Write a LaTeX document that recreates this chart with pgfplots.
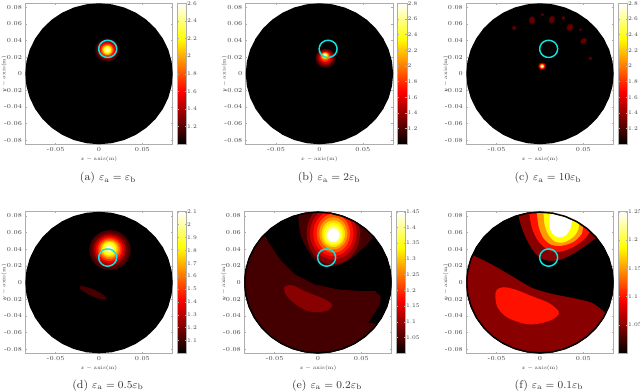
\documentclass[border=0pt]{standalone}
\usepackage{fontspec}
\usepackage{pgfplots}
\usepackage{pgfplotstable}
\pgfplotsset{compat=1.18}
\pgfplotsset{colormap={mhot}{rgb(0cm)=(0,0,0) rgb(3cm)=(1,0,0) rgb(6cm)=(1,1,0) rgb(8cm)=(1,1,1)}}
\definecolor{h1}{rgb}{.133,0,0}\definecolor{h2}{rgb}{.267,0,0}\definecolor{h3}{rgb}{.4,0,0}
\definecolor{h4}{rgb}{.533,0,0}\definecolor{h5}{rgb}{.667,0,0}\definecolor{h6}{rgb}{.8,0,0}
\definecolor{h7}{rgb}{.933,0,0}\definecolor{h8}{rgb}{1,.067,0}\definecolor{h9}{rgb}{1,.2,0}
\definecolor{h10}{rgb}{1,.333,0}\definecolor{h11}{rgb}{1,.467,0}\definecolor{h12}{rgb}{1,.6,0}
\definecolor{h13}{rgb}{1,.733,0}\definecolor{h14}{rgb}{1,.867,0}\definecolor{h15}{rgb}{1,1,0}
\definecolor{h16}{rgb}{1,1,.2}\definecolor{h17}{rgb}{1,1,.4}\definecolor{h18}{rgb}{1,1,.6}
\definecolor{h19}{rgb}{1,1,.8}\definecolor{h20}{rgb}{1,1,1}
\definecolor{ringcyan}{rgb}{.05,.9,.9}
\definecolor{boxgray}{gray}{.68}
\pgfplotstableread{
c s
1.0000 0.0000
0.9848 0.1736
0.9397 0.3420
0.8660 0.5000
0.7660 0.6428
0.6428 0.7660
0.5000 0.8660
0.3420 0.9397
0.1736 0.9848
0.0000 1.0000
-0.1736 0.9848
-0.3420 0.9397
-0.5000 0.8660
-0.6428 0.7660
-0.7660 0.6428
-0.8660 0.5000
-0.9397 0.3420
-0.9848 0.1736
-1.0000 0.0000
-0.9848 -0.1736
-0.9397 -0.3420
-0.8660 -0.5000
-0.7660 -0.6428
-0.6428 -0.7660
-0.5000 -0.8660
-0.3420 -0.9397
-0.1736 -0.9848
0.0000 -1.0000
0.1736 -0.9848
0.3420 -0.9397
0.5000 -0.8660
0.6428 -0.7660
0.7660 -0.6428
0.8660 -0.5000
0.9397 -0.3420
0.9848 -0.1736
1.0000 0.0000
}\unitcircle
% #1 cx #2 cy #3 rx #4 ry #5 rotation #6 colour
\newcommand\blob[6]{\addplot[fill=#6,draw=none,forget plot] table[
  x expr={#1+#3*\thisrow{c}*cos(#5)-#4*\thisrow{s}*sin(#5)},
  y expr={#2+#3*\thisrow{c}*sin(#5)+#4*\thisrow{s}*cos(#5)}]{\unitcircle};}
\newcommand\ringline[4]{\addplot[draw=#4,line width=1.1pt,forget plot] table[
  x expr={#1+#3*\thisrow{c}},y expr={#2+#3*\thisrow{s}}]{\unitcircle};}
\newcommand\target{\ringline{0.01}{0.03}{0.0103}{ringcyan}}
\newcommand\disc{\blob{0}{0}{0.085}{0.085}{0}{black}}
\newcommand\edge{\ringline{0}{0}{0.0845}{black}}
\pgfplotsset{
 patch/.style={fill=#1,draw=none,forget plot,smooth,tension=.55},
 panel/.style={
  scale only axis,anchor=south west,width=110.55pt,
  xmin=-0.085,xmax=0.085,ymin=-0.085,ymax=0.085,
  colormap name=mhot,
  scaled x ticks=false,scaled y ticks=false,
  xtick={-0.05,0,0.05},xticklabels={-0.05,0,0.05},
  ytick={-0.08,-0.06,-0.04,-0.02,0,0.02,0.04,0.06,0.08},
  yticklabels={-0.08,-0.06,-0.04,-0.02,0,0.02,0.04,0.06,0.08},
  tick align=inside,major tick length=1.3pt,
  tick style={boxgray,line width=.3pt},
  axis line style={boxgray,line width=.8pt},
  tick label style={font=\fontsize{4.6}{5}\selectfont,text=black!75},
  xticklabel style={yshift=1pt},yticklabel style={xshift=1pt},
  colorbar,
  every colorbar/.append style={width=7pt,xshift=-5.5pt,
    tick align=inside,major tick length=1.3pt,
    tick style={boxgray,line width=.3pt},
    axis line style={boxgray,line width=.8pt},
    yticklabel style={font=\fontsize{4.2}{5}\selectfont,text=black!75,xshift=-3.2pt}},
}}
\begin{document}
\begin{tikzpicture}
\useasboundingbox (0,0) rectangle (480pt,294pt);
% (a)
\begin{axis}[panel,at={(18.98pt,185.8pt)},height=105.75pt,point meta min=1,point meta max=2.6,
  colorbar style={ytick={1.2,1.4,1.6,1.8,2,2.2,2.4,2.6},yticklabels={1.2,1.4,1.6,1.8,2,2.2,2.4,2.6}}]
\disc
\blob{0.0096}{0.0287}{0.0146}{0.0146}{0}{h1}
\blob{0.0096}{0.0287}{0.0127}{0.0127}{0}{h3}
\blob{0.0096}{0.0287}{0.0108}{0.0108}{0}{h5}
\blob{0.0096}{0.0287}{0.0092}{0.0092}{0}{h7}
\blob{0.0096}{0.0287}{0.0077}{0.0077}{0}{h9}
\blob{0.0096}{0.0287}{0.0062}{0.0062}{0}{h12}
\blob{0.0096}{0.0287}{0.0046}{0.0046}{0}{h15}
\blob{0.0096}{0.0287}{0.0031}{0.0031}{0}{h17}
\blob{0.0096}{0.0287}{0.0019}{0.0019}{0}{h19}
\target
\end{axis}
% (b)
\begin{axis}[panel,at={(184.3pt,185.8pt)},height=105.75pt,point meta min=1,point meta max=2.8,
  colorbar style={ytick={1.2,1.4,1.6,1.8,2,2.2,2.4,2.6,2.8},yticklabels={1.2,1.4,1.6,1.8,2,2.2,2.4,2.6,2.8}}]
\disc
\blob{0.0069}{0.0187}{0.0115}{0.0115}{0}{h2}
\blob{0.0069}{0.0192}{0.0096}{0.0096}{0}{h4}
\blob{0.0069}{0.0197}{0.0077}{0.0077}{0}{h6}
\blob{0.0068}{0.0203}{0.0062}{0.0062}{0}{h8}
\blob{0.0067}{0.0208}{0.0050}{0.0050}{0}{h10}
\blob{0.0066}{0.0215}{0.0038}{0.0038}{0}{h13}
\blob{0.0065}{0.0220}{0.0027}{0.0027}{0}{h15}
\blob{0.0065}{0.0225}{0.0015}{0.0015}{0}{h18}
\target
\end{axis}
% (c)
\begin{axis}[panel,at={(349.7pt,185.8pt)},height=105.75pt,point meta min=1,point meta max=2.8,
  colorbar style={ytick={1.2,1.4,1.6,1.8,2,2.2,2.4,2.6,2.8},yticklabels={1.2,1.4,1.6,1.8,2,2.2,2.4,2.6,2.8}}]
\disc
\blob{-0.0298}{0.0552}{0.0023}{0.0028}{0}{h2}
\blob{-0.0298}{0.0552}{0.0012}{0.0015}{0}{h3}
\blob{-0.0090}{0.0644}{0.0038}{0.0048}{0}{h2}
\blob{-0.0090}{0.0644}{0.0024}{0.0032}{0}{h3}
\blob{0.0029}{0.0712}{0.0016}{0.0018}{0}{h2}
\blob{0.0029}{0.0712}{0.0008}{0.0009}{0}{h3}
\blob{0.0137}{0.0652}{0.0034}{0.0049}{-15}{h2}
\blob{0.0137}{0.0652}{0.0021}{0.0033}{-15}{h3}
\blob{0.0268}{0.0672}{0.0019}{0.0024}{-20}{h2}
\blob{0.0268}{0.0672}{0.0010}{0.0012}{-20}{h3}
\blob{0.0345}{0.0560}{0.0038}{0.0046}{-30}{h2}
\blob{0.0345}{0.0560}{0.0023}{0.0030}{-30}{h3}
\blob{0.0468}{0.0532}{0.0015}{0.0016}{0}{h2}
\blob{0.0468}{0.0532}{0.0008}{0.0008}{0}{h3}
\blob{0.0503}{0.0395}{0.0042}{0.0032}{40}{h2}
\blob{0.0503}{0.0395}{0.0028}{0.0020}{40}{h3}
\blob{0.0580}{0.0186}{0.0019}{0.0020}{0}{h2}
\blob{0.0580}{0.0186}{0.0010}{0.0010}{0}{h3}
\blob{0.0025}{0.0090}{0.0046}{0.0046}{0}{h3}
\blob{0.0025}{0.0090}{0.0035}{0.0035}{0}{h7}
\blob{0.0025}{0.0090}{0.0027}{0.0027}{0}{h10}
\blob{0.0025}{0.0090}{0.0019}{0.0019}{0}{h14}
\blob{0.0025}{0.0090}{0.0012}{0.0012}{0}{h17}
\blob{0.0025}{0.0090}{0.0007}{0.0007}{0}{h20}
\target
\end{axis}
% (d)
\begin{axis}[panel,at={(18.98pt,29pt)},height=106.2pt,point meta min=1,point meta max=2.1,
  colorbar style={ytick={1.1,1.2,1.3,1.4,1.5,1.6,1.7,1.8,1.9,2,2.1},yticklabels={1.1,1.2,1.3,1.4,1.5,1.6,1.7,1.8,1.9,2,2.1}}]
\disc
\blob{-0.0069}{-0.0124}{0.0169}{0.0040}{-25}{h2}
\blob{0.0127}{0.0390}{0.0239}{0.0239}{0}{h2}
\blob{0.0126}{0.0392}{0.0212}{0.0212}{0}{h3}
\blob{0.0125}{0.0394}{0.0185}{0.0185}{0}{h5}
\blob{0.0124}{0.0396}{0.0162}{0.0162}{0}{h7}
\blob{0.0123}{0.0398}{0.0139}{0.0139}{0}{h9}
\blob{0.0122}{0.0400}{0.0119}{0.0119}{0}{h11}
\blob{0.0121}{0.0402}{0.0100}{0.0100}{0}{h13}
\blob{0.0120}{0.0404}{0.0081}{0.0081}{0}{h15}
\blob{0.0119}{0.0406}{0.0062}{0.0062}{0}{h16}
\blob{0.0118}{0.0408}{0.0042}{0.0042}{0}{h18}
\blob{0.0118}{0.0409}{0.0027}{0.0027}{0}{h19}
\target
\end{axis}
% (e)
\begin{axis}[panel,at={(183.2pt,29pt)},height=106.2pt,point meta min=1,point meta max=1.45,
  colorbar style={ytick={1.05,1.1,1.15,1.2,1.25,1.3,1.35,1.4,1.45},yticklabels={1.05,1.1,1.15,1.2,1.25,1.3,1.35,1.4,1.45}}]
\disc
\begin{scope}
\clip (axis cs:0,0) circle [radius=0.085];
\addplot[fill=h2,draw=none,forget plot] coordinates {
(-0.0727,0.0676)(-0.0619,0.0564)(-0.0554,0.0456)(-0.0438,0.0276)(-0.0265,0.0096)(-0.0035,-0.0024)
(0.0235,-0.0084)(0.0504,-0.0104)(0.0658,-0.0104)(0.0723,-0.0164)(0.0715,-0.0264)(0.0581,-0.0484)
(0.0681,-0.0496)(0.0773,-0.0564)(0.1,-0.1)(-0.1,-0.1)(-0.1,0.0676)};
\addplot[patch=h4] coordinates {
(-0.0392,-0.0064)(-0.0362,-0.0036)(-0.0285,-0.0036)(-0.015,-0.0104)(0.0042,-0.0184)(0.0138,-0.0236)
(0.0165,-0.0276)(0.0119,-0.0332)(0.0004,-0.0356)(-0.0112,-0.0344)(-0.0227,-0.0284)(-0.0323,-0.0204)(-0.0381,-0.0124)(-0.0392,-0.0064)};
\addplot[patch=h2] coordinates {
(-0.0227,0.0799)(-0.0208,0.061)(-0.015,0.045)(-0.0035,0.0269)(0.01,0.0197)(0.0235,0.0209)
(0.0408,0.0309)(0.0639,0.055)(0.08,0.09)(-0.03,0.1)};
\blob{0.0177}{0.0590}{0.0308}{0.0373}{0}{h4}
\blob{0.0177}{0.0590}{0.0270}{0.0313}{0}{h6}
\blob{0.0177}{0.0590}{0.0231}{0.0273}{0}{h8}
\blob{0.0177}{0.0590}{0.0192}{0.0233}{0}{h10}
\blob{0.0177}{0.0590}{0.0162}{0.0193}{0}{h12}
\blob{0.0177}{0.0585}{0.0135}{0.0160}{0}{h14}
\blob{0.0177}{0.0580}{0.0115}{0.0133}{0}{h15}
\blob{0.0177}{0.0575}{0.0092}{0.0108}{0}{h17}
\blob{0.0177}{0.0570}{0.0069}{0.0080}{0}{h20}
\end{scope}
\edge
\target
\end{axis}
% (f)
\begin{axis}[panel,at={(349.7pt,29pt)},height=106.2pt,point meta min=1,point meta max=1.25,
  colorbar style={ytick={1.05,1.1,1.15,1.2,1.25},yticklabels={1.05,1.1,1.15,1.2,1.25}}]
\disc
\begin{scope}
\clip (axis cs:0,0) circle [radius=0.085];
\addplot[fill=h4,draw=none,forget plot,smooth,tension=.4] coordinates {
(-0.085,0.037)(-0.0765,0.0324)(-0.0554,0.0216)(-0.0323,0.0076)(-0.0092,-0.0064)(0.0138,-0.0136)
(0.0369,-0.0184)(0.06,-0.0244)(0.0754,-0.0364)(0.0831,-0.0444)(0.1,-0.1)(-0.1,-0.1)(-0.1,0.04)};
\addplot[patch=h8] coordinates {
(-0.0515,-0.0144)(-0.0496,-0.0084)(-0.0419,-0.0056)(-0.0285,-0.0084)(-0.0092,-0.0164)(0.01,-0.0244)
(0.0215,-0.0344)(0.0196,-0.0404)(0.01,-0.0464)(-0.0092,-0.0504)(-0.0246,-0.0476)(-0.04,-0.0404)(-0.0496,-0.0284)(-0.0515,-0.0144)};
\addplot[patch=h4] coordinates {
(-0.0246,0.0791)(-0.0208,0.0651)(-0.0131,0.047)(-0.0035,0.0329)(0.0062,0.0269)(0.0216,0.0269)
(0.0389,0.0349)(0.0562,0.047)(0.065,0.0538)(0.09,0.07)(0.06,0.1)(-0.03,0.1)};
\addplot[patch=h8] coordinates {
(-0.0123,0.0831)(-0.0092,0.0651)(-0.0015,0.049)(0.01,0.039)(0.0235,0.0369)(0.0389,0.0429)
(0.0523,0.053)(0.06,0.0631)(0.08,0.075)(0.03,0.1)(-0.015,0.1)};
\addplot[patch=h12] coordinates {
(-0.0035,0.0831)(-0.0015,0.0671)(0.0042,0.053)(0.0139,0.045)(0.0254,0.0442)(0.0389,0.049)
(0.0485,0.059)(0.0512,0.0691)(0.07,0.09)(-0.003,0.1)};
\addplot[patch=h15] coordinates {
(0.0042,0.0831)(0.0054,0.0691)(0.01,0.057)(0.0177,0.049)(0.0273,0.0482)(0.0389,0.055)
(0.0447,0.0651)(0.0458,0.0731)(0.06,0.09)(0.004,0.1)};
\addplot[patch=h20] coordinates {
(0.0119,0.0811)(0.0108,0.0691)(0.0139,0.059)(0.0216,0.0542)(0.0293,0.0562)(0.035,0.0643)
(0.037,0.0731)(0.045,0.09)(0.012,0.1)};
\end{scope}
\edge
\target
\end{axis}
\tikzset{capt/.style={font=\fontsize{8.4}{10}\selectfont,text=black!80,inner sep=0pt},
  axlab/.style={font=\fontsize{5}{6}\selectfont,text=black!75,inner sep=0pt}}
\newcommand\xl{\scalebox{.78}{$x-\mathrm{axis(m)}$}}
\newcommand\yl{\scalebox{.78}{$y-\mathrm{axis(m)}$}}
\node[axlab] at (74.2pt,174.75pt) {\xl};
\node[axlab] at (239.5pt,174.75pt) {\xl};
\node[axlab] at (404.9pt,174.75pt) {\xl};
\node[axlab] at (74.2pt,18pt) {\xl};
\node[axlab] at (238.5pt,18pt) {\xl};
\node[axlab] at (404.9pt,18pt) {\xl};
\node[axlab,rotate=90] at (3pt,238.65pt) {\yl};
\node[axlab,rotate=90] at (168.2pt,238.65pt) {\yl};
\node[axlab,rotate=90] at (334.3pt,238.65pt) {\yl};
\node[axlab,rotate=90] at (3pt,82.3pt) {\yl};
\node[axlab,rotate=90] at (167.8pt,82.3pt) {\yl};
\node[axlab,rotate=90] at (334.3pt,82.3pt) {\yl};
\node[capt] at (81pt,160.5pt) {(a)~$\varepsilon_{\mathrm{a}}=\varepsilon_{\mathrm{b}}$};
\node[capt] at (246.75pt,160.5pt) {(b)~$\varepsilon_{\mathrm{a}}=2\varepsilon_{\mathrm{b}}$};
\node[capt] at (411pt,160.5pt) {(c)~$\varepsilon_{\mathrm{a}}=10\varepsilon_{\mathrm{b}}$};
\node[capt] at (81pt,5pt) {(d)~$\varepsilon_{\mathrm{a}}=0.5\varepsilon_{\mathrm{b}}$};
\node[capt] at (245.25pt,5pt) {(e)~$\varepsilon_{\mathrm{a}}=0.2\varepsilon_{\mathrm{b}}$};
\node[capt] at (411.75pt,5pt) {(f)~$\varepsilon_{\mathrm{a}}=0.1\varepsilon_{\mathrm{b}}$};
\end{tikzpicture}
\end{document}
